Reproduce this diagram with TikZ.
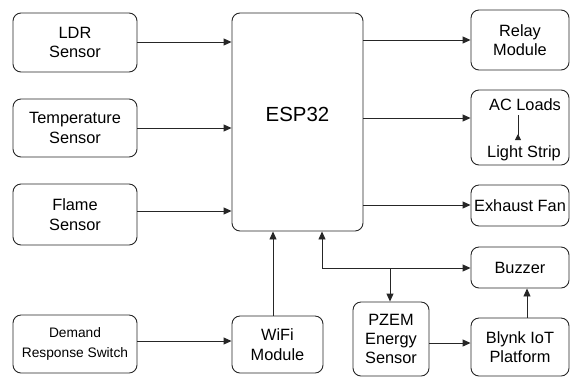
\documentclass[tikz,border=0pt]{standalone}
\usepackage{fontspec}
\setmainfont{Liberation Sans}
\usetikzlibrary{arrows.meta}
\begin{document}
\begin{tikzpicture}[x=1bp,y=-1bp,
  box/.style={draw=black!85, line width=0.9bp, rounded corners=8bp, align=center,
     inner sep=0pt, font=\fontsize{16.4}{19.5}\selectfont},
  txt/.style={inner sep=0pt, align=center, font=\fontsize{16.4}{19.5}\selectfont},
  arr/.style={draw=black!85, line width=0.9bp, -{Triangle[length=8bp,width=7bp]}},
  ln/.style={draw=black!85, line width=0.9bp}]
\useasboundingbox (0,0) rectangle (571,378);
% left column
\node[box, minimum width=124bp, minimum height=59bp] (ldr) at (75,42.5) {LDR\\Sensor};
\node[box, minimum width=124bp, minimum height=58bp] (temp) at (75,128) {Temperature\\Sensor};
\node[box, minimum width=124bp, minimum height=61bp] (flame) at (75,214.5) {Flame\\Sensor};
\node[box, minimum width=124bp, minimum height=58bp, font=\fontsize{13.8}{20}\selectfont] (dem) at (75,344) {Demand\\Response Switch};
% ESP32
\node[box, minimum width=131bp, minimum height=218bp] (esp) at (297.5,122) {};
\node[txt, font=\fontsize{20.5}{24}\selectfont] (esptxt) at (297.5,114) {ESP32};
\node[box, minimum width=91bp, minimum height=57bp] (wifi) at (277.5,344.5) {WiFi\\Module};
% right column
\node[box, minimum width=98bp, minimum height=60bp] (relay) at (520,40) {Relay\\Module};
\node[box, minimum width=98bp, minimum height=75bp] (ac) at (520,127.5) {};
\node[txt] (acl) at (525,105) {AC Loads};
\node[txt] (ls) at (524,153) {Light Strip};
\node[box, minimum width=98bp, minimum height=41bp] (fan) at (520,205.5) {Exhaust Fan};
\node[box, minimum width=98bp, minimum height=41bp] (buz) at (520,267.5) {Buzzer};
\node[box, minimum width=98bp, minimum height=58bp] (blynk) at (520,347) {Blynk IoT\\Platform};
\node[box, minimum width=76bp, minimum height=74bp] (pzem) at (391,339) {PZEM\\Energy\\Sensor};
% coordinates
\coordinate (j1) at (322,268);
\coordinate (j2) at (390,268);
% connectors
\draw[arr] (ldr.east |- 0,42) -- (esp.west |- 0,42);
\draw[arr] (temp.east |- 0,128) -- (esp.west |- 0,128);
\draw[arr] (flame.east |- 0,211) -- (esp.west |- 0,211);
\draw[arr] (dem.east |- 0,341) -- (wifi.west |- 0,341);
\draw[arr] (wifi.north -| 273,0) -- (esp.south -| 273,0);
\draw[arr] (esp.east |- 0,40) -- (relay.west |- 0,40);
\draw[arr] (esp.east |- 0,118) -- (ac.west |- 0,118);
\draw[arr] (esp.east |- 0,205) -- (fan.west |- 0,205);
\draw[arr] (j1) -- (esp.south -| j1);
\draw[arr] (j1) -- (buz.west |- j1);
\draw[arr] (j2) -- (pzem.north -| j2);
\draw[arr] (pzem.east |- 0,343) -- (blynk.west |- 0,343);
\draw[arr] (blynk.north -| 527,0) -- (buz.south -| 527,0);
\draw[ln, -{Triangle[length=6bp,width=6bp,reversed]}] (518,115) -- (518,140);
\end{tikzpicture}
\end{document}
